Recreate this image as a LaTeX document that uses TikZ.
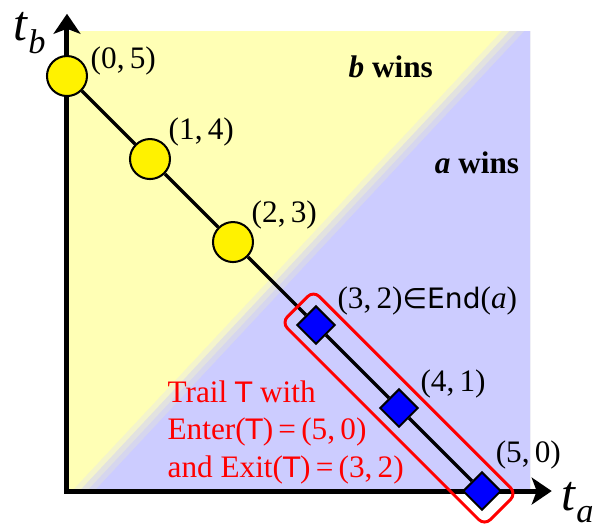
\documentclass[tikz,border=0pt]{standalone}
\usepackage{fontspec}
\setmainfont{Liberation Serif}
\newfontfamily\dvsans[Scale=0.9]{DejaVu Sans}
\usetikzlibrary{arrows.meta,positioning,backgrounds,shapes.geometric}
\definecolor{bwin}{RGB}{255,255,181}\definecolor{awin}{RGB}{204,204,255}
\definecolor{edgeA}{RGB}{244,244,204}\definecolor{edgeB}{RGB}{226,226,224}\definecolor{edgeC}{RGB}{214,214,238}
\newcommand\axlab[2]{\textit{#1}\raisebox{-4pt}{\fontsize{11}{12}\selectfont\textit{#2}}}
\tikzset{circ/.style={draw,circle,fill=yellow,line width=0.65pt,minimum size=12.8pt,inner sep=0pt},
diam/.style={draw,diamond,fill=blue,line width=0.65pt,minimum size=12.2pt,inner sep=0pt},
lab/.style={inner sep=0pt,anchor=south west},
axlabel/.style={font=\fontsize{16}{18}\selectfont,inner sep=0pt},
axis/.style={line width=1.6pt,{Stealth[length=6.4pt,width=8.6pt,inset=1.6pt]}-{Stealth[length=6.4pt,width=8.6pt,inset=1.6pt]}},
trailbox/.style={draw=red,line width=0.95pt,rounded corners=2.6pt,rotate=-45,minimum width=91.8pt,minimum height=14.4pt,inner sep=0pt}}
\begin{document}
\begin{tikzpicture}[x=26.56pt,y=26.56pt]
\useasboundingbox(-0.807,-0.422)rectangle(6.337,5.916);
\foreach\i in{0,1,2}\node[circ](p\i)at(\i,5-\i){};
\foreach\i in{3,4,5}\node[diam](p\i)at(\i,5-\i){};
\node[lab,above right=0pt and 7.4pt of p0.center](l0){(0,\,5)};
\node[lab,above right=3.8pt and 5.8pt of p1.center](l1){(1,\,4)};
\node[lab,above right=3.8pt and 5.8pt of p2.center](l2){(2,\,3)};
\node[lab,above right=2.9pt and 6.7pt of p3.center](l3){(3,\,2){\dvsans∈End}(\textit{a})};
\node[lab,above right=2.9pt and 6.7pt of p4.center](l4){(4,\,1)};
\node[lab,above right=6.7pt and 4.2pt of p5.center](l5){(5,\,0)};
\node[trailbox](trail)at(p4){};
\node[text=red,align=left,anchor=north west,inner sep=0pt](note)at(1.205,1.34){Trail {\dvsans T} with\\Enter({\dvsans T})\,=\,(5,\,0)\\and Exit({\dvsans T})\,=\,(3,\,2)};
\node[font=\bfseries](bw)at(3.9,5.11){\textit{b} wins};\node[font=\bfseries](aw)at(4.94,3.95){\textit{a} wins};
\coordinate(tbtip)at(0,5.75);\coordinate(tatip)at(5.84,0);
\node[axlabel](tb)at(-0.45,5.52){\axlab{t}{b}};\node[axlabel](ta)at(6.15,-0.14){\axlab{t}{a}};
\begin{scope}[on background layer]
\begin{scope}
\clip(0,0)rectangle(5.58,5.54);\fill[bwin](0,0)rectangle(5.58,5.54);
\foreach\d/\c in{0.06/edgeA,0.15/edgeB,0.24/edgeC,0.33/awin}\fill[\c](\d,0)--(\d+5.18,5.54)--(6,5.54)--(6,0)--cycle;
\end{scope}
\draw[axis](tbtip)|-(tatip);
\draw[line width=1.1pt](p0)--(p1)--(p2)--(p3)--(p4)--(p5);
\end{scope}
\end{tikzpicture}
\end{document}
